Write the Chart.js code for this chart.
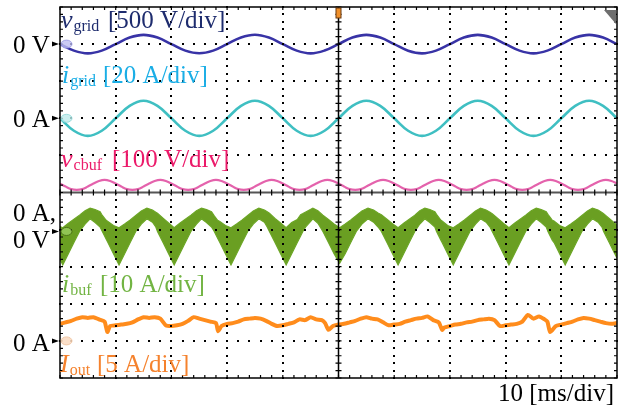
<!DOCTYPE html>
<html>
<head>
<meta charset="utf-8">
<script src="https://cdn.jsdelivr.net/npm/chart.js@4.4.1/dist/chart.umd.min.js"></script>
<style>
  html, body { margin: 0; padding: 0; background: #fff; }
  canvas { display: block; }
</style>
</head>
<body>
<canvas id="scope" width="626" height="410"></canvas>
<script>
// Scope capture: 10 ms/div, 10 x 10 divisions
const timeCoarse = [0,2.5,5,7.5,10,12.5,15,17.5,20,22.5,25,27.5,30,32.5,35,37.5,40,42.5,45,47.5,50,52.5,55,57.5,60,62.5,65,67.5,70,72.5,75,77.5,80,82.5,85,87.5,90,92.5,95,97.5,100];
const timeFine = [0,1,2,3,4,5,6,7,8,9,10,11,12,13,14,15,16,17,18,19,20,21,22,23,24,25,26,27,28,29,30,31,32,33,34,35,36,37,38,39,40,41,42,43,44,45,46,47,48,49,50,51,52,53,54,55,56,57,58,59,60,61,62,63,64,65,66,67,68,69,70,71,72,73,74,75,76,77,78,79,80,81,82,83,84,85,86,87,88,89,90,91,92,93,94,95,96,97,98,99,100];

// v_grid [V]
const vGrid = [0,-88,-125,-88,0,88,125,88, 0,-88,-124,-88,0,89,126,88, 0,-88,-125,-87,0,88,125,88, 0,-89,-125,-88,0,88,124,88, 0,-88,-125,-88,0,88,125,88, 0];
// i_grid [A]
const iGrid = [0,-6.7,-9.5,-6.7,0,6.7,9.5,6.7, 0,-6.7,-9.5,-6.7,0,6.7,9.5,6.7, 0,-6.7,-9.5,-6.7,0,6.7,9.5,6.7, 0,-6.7,-9.5,-6.7,0,6.7,9.5,6.7, 0,-6.7,-9.5,-6.7,0,6.7,9.5,6.7, 0];
// v_cbuf [V]
const vCbuf = [129,121,114,112,114,121,129,136,139,136, 129,121,114,112,114,121,129,136,139,136, 129,121,114,112,114,121,129,136,139,136, 129,121,114,112,114,121,129,136,139,136, 129,121,114,112,114,121,129,136,139,136, 129,121,114,112,114,121,129,136,139,136, 129,121,114,112,114,121,129,136,139,136, 129,121,114,112,114,121,129,136,139,136, 129,121,114,112,114,121,129,136,139,136, 129,121,114,112,114,121,129,136,139,136, 129];

// i_buf ripple band: [ms, max A, min A]
const iBufBand = [[0,1.3,-7.5],
  [0.5,1.0,-9.0],[1.5,2.2,-6.0],[2.5,3.3,-3.0],[3.5,4.4,0.0],[4.5,5.6,2.0],[5.4,6.3,3.4],[6.3,5.9,2.4],[7.2,5.3,1.2],[7.6,4.3,0.0],[8.3,3.0,-2.1],[8.6,2.7,-3.0],[9.6,1.6,-6.0],
  [10.6,1.0,-9.0],[11.6,2.0,-6.0],[12.6,3.1,-3.0],[13.6,4.3,0.0],[14.6,5.5,2.0],[15.6,6.3,3.4],[16.6,5.8,2.5],[17.2,5.2,1.2],[17.5,4.9,0.0],[18.5,3.6,-3.0],[19.5,2.3,-6.0],
  [20.5,1.0,-9.0],[21.5,2.2,-6.0],[22.5,3.3,-3.0],[23.5,4.4,0.0],[24.5,5.6,2.0],[25.4,6.3,3.4],[26.3,5.9,2.4],[27.2,5.3,1.2],[27.7,4.2,0.0],[28.3,3.0,-1.8],[28.7,2.7,-3.0],[29.7,1.6,-6.0],
  [30.7,1.0,-9.0],[31.7,2.0,-6.0],[32.7,3.1,-3.0],[33.7,4.3,0.0],[34.7,5.5,2.0],[35.7,6.3,3.4],[36.7,5.8,2.5],[37.2,5.3,1.2],[37.6,4.9,0.0],[38.6,3.5,-3.0],[39.6,2.3,-6.0],
  [40.6,1.0,-9.0],[41.6,2.4,-6.0],[42.6,3.2,-3.0],[43.2,4.5,-1.2],[43.6,4.8,0.0],[44.2,5.3,1.4],[45.4,6.3,3.4],[46.3,5.6,2.2],[47.2,4.4,0.0],[48.2,3.2,-3.0],[49.2,2.0,-6.0],
  [50.2,1.0,-8.6],[51.2,2.0,-6.0],[52.2,3.1,-3.0],[53.2,4.3,0.0],[54.2,5.5,2.0],[55.3,6.3,3.4],[56.3,5.8,2.5],[57.1,5.0,1.2],[57.7,4.5,0.0],[58.7,3.3,-3.0],[59.7,2.1,-6.0],
  [60.7,1.0,-9.0],[61.7,2.2,-6.0],[62.7,3.3,-3.0],[63.7,4.4,0.0],[64.6,5.6,2.0],[65.5,6.3,3.4],[66.4,5.9,2.4],[67.3,5.3,1.2],[67.6,4.6,0.0],[68.4,3.0,-2.4],[68.6,2.8,-3.0],[69.6,1.6,-6.0],
  [70.6,1.0,-9.0],[71.6,2.0,-6.0],[72.6,3.1,-3.0],[73.6,4.3,0.0],[74.6,5.5,2.0],[75.5,6.3,3.4],[76.5,5.8,2.5],[77.2,5.2,1.2],[77.6,4.8,0.0],[78.6,3.5,-3.0],[79.6,2.2,-6.0],
  [80.6,1.0,-9.0],[81.6,2.2,-6.0],[82.6,3.3,-3.0],[83.6,4.4,0.0],[84.6,5.6,2.0],[85.5,6.3,3.4],[86.4,5.9,2.4],[87.3,5.3,1.2],[87.6,4.6,0.0],[88.4,3.0,-2.4],[88.7,2.8,-3.0],[89.7,1.6,-6.0],
  [90.7,1.0,-9.0],[91.7,2.0,-6.0],[92.7,3.1,-3.0],[93.7,4.3,0.0],[94.7,5.5,2.0],[95.6,6.3,3.4],[96.6,5.8,2.5],[97.3,5.1,1.2],[97.6,4.8,0.0],[98.6,3.5,-3.0],[99.6,2.2,-6.0],
  [100,1.8,-7.2]];

// I_out [ms, A]
const iOut = [[0,2.3],[1,2.5],[2,2.7],[3,3.0],[4,3.2],[5,3.1],[6,3.2],[7,2.9],[8,2.6],[8.5,1.2],[9,2.0],
  [10,2.1],[11,2.2],[12,2.3],[13,2.5],[14,2.9],[15,3.2],[16,3.1],[17,3.2],[18,3.0],[19,2.1],
  [20,2.0],[21,2.1],[22,2.3],[23,2.7],[24,3.2],[25,3.0],[26,2.8],[27,2.6],[28,2.4],[28.4,1.3],[29,2.0],
  [30,2.3],[31,2.4],[32,2.6],[33,2.9],[34,3.0],[35,3.1],[36,3.0],[37,2.7],[38,2.3],[39,2.0],
  [40,2.1],[41,2.3],[42,2.5],[43,2.9],[44,2.8],[45,3.2],[46,2.9],[47,2.8],[47.6,2.4],[48.2,1.5],[49,2.0],
  [50,2.2],[51,2.3],[52,2.5],[53,2.7],[54,3.0],[55,3.2],[56,3.0],[57,2.9],[58,2.5],[59,2.1],
  [60,2.2],[61,2.3],[62,2.6],[63,2.8],[64,3.0],[65,3.1],[66,3.3],[67,2.8],[68,2.5],[68.6,1.5],[69,1.8],
  [70,2.0],[71,2.2],[72,2.3],[73,2.5],[74,2.6],[75,2.8],[76,2.9],[77,3.0],[78,2.8],[79,2.0],
  [80,2.1],[81,2.2],[82,2.3],[83,2.6],[84,3.5],[85,3.0],[86,3.3],[87,2.9],[87.5,2.6],[88,1.2],[89,2.0],
  [90,2.2],[91,2.4],[92,2.6],[93,2.9],[94,3.1],[95,3.0],[96,2.8],[97,2.6],[98,2.4],[99,2.3],[100,2.4]];

const serif = '"Liberation Serif", "Times New Roman", serif';

function pts(times, values) {
    return times.map((t, i) => ({ x: t, y: values[i] }));
}

// grid, ticks, centre axes and frame
const scopeGrid = {
    id: 'scopeGrid',
    afterDatasetsDraw(chart) {
        const ctx = chart.ctx;
        const a = chart.chartArea;
        const xs = chart.scales.x;
        const ys = chart.scales.yDiv;
        ctx.save();
        ctx.fillStyle = '#000';
        // dotted graticule
        for (let k = 1; k < 10; k++) {
            if (k === 5) continue;
            const px = Math.round(xs.getPixelForValue(k * 10));
            for (let m = 0; m <= 50; m++) {
                const py = Math.round(ys.getPixelForValue(m / 5));
                ctx.fillRect(px - 1, py - 1, 2, 2);
            }
            const py = Math.round(ys.getPixelForValue(k));
            for (let m = 0; m <= 50; m++) {
                const qx = Math.round(xs.getPixelForValue(m * 2));
                ctx.fillRect(qx - 1, py - 1, 2, 2);
            }
        }
        // centre axes
        const cx = xs.getPixelForValue(50);
        const cy = ys.getPixelForValue(5);
        ctx.strokeStyle = '#555';
        ctx.lineWidth = 2;
        ctx.beginPath();
        ctx.moveTo(a.left, cy); ctx.lineTo(a.right, cy);
        ctx.stroke();
        ctx.strokeStyle = '#000';
        ctx.lineWidth = 1.5;
        ctx.beginPath();
        ctx.moveTo(cx, a.top); ctx.lineTo(cx, a.bottom);
        ctx.stroke();
        // minor ticks
        ctx.lineWidth = 1.2;
        ctx.beginPath();
        for (let m = 0; m <= 50; m++) {
            const px = xs.getPixelForValue(m * 2);
            const py = ys.getPixelForValue(m / 5);
            ctx.moveTo(px, cy - 3); ctx.lineTo(px, cy + 3);
            ctx.moveTo(cx - 3, py); ctx.lineTo(cx + 3, py);
            ctx.moveTo(px, a.top); ctx.lineTo(px, a.top + 3);
            ctx.moveTo(px, a.bottom); ctx.lineTo(px, a.bottom - 3);
            ctx.moveTo(a.left, py); ctx.lineTo(a.left + 3, py);
            ctx.moveTo(a.right, py); ctx.lineTo(a.right - 3, py);
        }
        ctx.stroke();
        ctx.lineWidth = 1.5;
        ctx.strokeRect(a.left, a.top, a.right - a.left, a.bottom - a.top);
        ctx.restore();
    }
};

// channel labels, zero markers, trigger marks
const scopeText = {
    id: 'scopeText',
    afterDraw(chart) {
        const ctx = chart.ctx;
        const a = chart.chartArea;
        const s = chart.scales;
        ctx.save();
        ctx.textBaseline = 'alphabetic';
        ctx.textAlign = 'left';

        function label(x, base, sym, sub, rest, restX, color) {
            ctx.fillStyle = color;
            ctx.font = 'italic 26px ' + serif;
            ctx.fillText(sym, x, base);
            const w = ctx.measureText(sym).width;
            ctx.font = '16px ' + serif;
            ctx.fillText(sub, x + w + 1, base + 3);
            ctx.font = '25px ' + serif;
            ctx.fillText(rest, restX, base);
        }
        label(61, 28, 'v', 'grid', '[500 V/div]', 108, '#1e2c6e');
        label(62, 83, 'i', 'grid', '[20 A/div]', 103, '#1aaee6');
        label(61, 167, 'v', 'cbuf', '[100 V/div]', 112, '#ec1a6a');
        label(62, 292, 'i', 'buf', '[10 A/div]', 100, '#72b443');
        label(60, 372, 'I', 'out', '[5 A/div]', 97, '#f5822d');

        ctx.fillStyle = '#000';
        ctx.font = '25px ' + serif;
        ctx.fillText('10 [ms/div]', 498, 401);

        // zero level markers
        function zero(axis, text, base) {
            const y = s[axis].getPixelForValue(0);
            ctx.fillStyle = '#000';
            ctx.font = '25px ' + serif;
            ctx.fillText(text, 13, base);
            ctx.beginPath();
            ctx.moveTo(52, y - 2.5); ctx.lineTo(59, y); ctx.lineTo(52, y + 2.5);
            ctx.closePath();
            ctx.fill();
        }
        zero('yVgrid', '0 V', 53);
        zero('yIgrid', '0 A', 127);
        ctx.fillText('0 A,', 13, 221);
        zero('yIbuf', '0 V', 248);
        zero('yIout', '0 A', 351);

        // channel badges on the left edge
        function badge(axis, fill, edge) {
            const y = s[axis].getPixelForValue(0);
            ctx.fillStyle = fill;
            ctx.strokeStyle = edge;
            ctx.lineWidth = 1;
            ctx.beginPath();
            ctx.ellipse(66.5, y, 5.5, 4, 0, 0, Math.PI * 2);
            ctx.fill();
            ctx.stroke();
        }
        badge('yVgrid', 'rgba(190,190,240,0.8)', 'rgba(150,150,225,0.8)');
        badge('yIgrid', 'rgba(190,235,235,0.8)', 'rgba(140,215,215,0.8)');
        badge('yIbuf', 'rgba(150,200,90,0.9)', 'rgba(70,110,20,0.9)');
        badge('yIout', 'rgba(250,220,195,0.9)', 'rgba(240,195,160,0.9)');

        // trigger position and level marks
        const cx = s.x.getPixelForValue(50);
        ctx.fillStyle = '#f0902a';
        ctx.strokeStyle = '#6b3a10';
        ctx.fillRect(cx - 2.5, a.top + 1, 5, 10);
        ctx.strokeRect(cx - 2.5, a.top + 1, 5, 10);
        ctx.fillStyle = '#6e6e6e';
        ctx.beginPath();
        ctx.moveTo(a.right - 13, a.top + 3);
        ctx.lineTo(a.right - 1, a.top + 3);
        ctx.lineTo(a.right - 1, a.top + 17);
        ctx.closePath();
        ctx.fill();
        ctx.restore();
    }
};

const bandTimes = iBufBand.map(r => r[0]);
const ctx = document.getElementById('scope').getContext('2d');
const scopeChart = new Chart(ctx, {
    type: 'line',
    data: {
        datasets: [{
            label: 'v_grid',
            data: pts(timeCoarse, vGrid),
            yAxisID: 'yVgrid',
            borderColor: '#3833a6',
            borderWidth: 2.6,
            tension: 0.4
        }, {
            label: 'i_grid',
            data: pts(timeCoarse, iGrid),
            yAxisID: 'yIgrid',
            borderColor: '#3fbfc2',
            borderWidth: 2.6,
            tension: 0.4
        }, {
            label: 'v_cbuf',
            data: pts(timeFine, vCbuf),
            yAxisID: 'yVcbuf',
            borderColor: '#e462ac',
            borderWidth: 2.2,
            tension: 0.4
        }, {
            label: 'i_buf max',
            data: pts(bandTimes, iBufBand.map(r => r[1])),
            yAxisID: 'yIbuf',
            borderColor: '#6ca626',
            borderWidth: 1.2,
            tension: 0
        }, {
            label: 'i_buf min',
            data: pts(bandTimes, iBufBand.map(r => r[2])),
            yAxisID: 'yIbuf',
            borderColor: '#6ca626',
            backgroundColor: '#6a9f22',
            borderWidth: 1.2,
            tension: 0,
            fill: '-1'
        }, {
            label: 'I_out',
            data: iOut.map(p => ({ x: p[0], y: p[1] })),
            yAxisID: 'yIout',
            borderColor: '#ff8c1c',
            borderWidth: 4,
            tension: 0.2
        }]
    },
    options: {
        responsive: false,
        animation: false,
        layout: { padding: { left: 60, right: 9, top: 7, bottom: 32 } },
        elements: { point: { radius: 0 } },
        plugins: {
            legend: { display: false },
            tooltip: { enabled: false }
        },
        scales: {
            x: { type: 'linear', min: 0, max: 100, display: false },
            yDiv: { min: 0, max: 10, display: false },
            yVgrid: { min: -4500, max: 500, display: false },
            yIgrid: { min: -140, max: 60, display: false },
            yVcbuf: { min: -395, max: 605, display: false },
            yIbuf: { min: -39.5, max: 60.5, display: false },
            yIout: { min: -5, max: 45, display: false }
        }
    },
    plugins: [scopeGrid, scopeText]
});
</script>
</body>
</html>
